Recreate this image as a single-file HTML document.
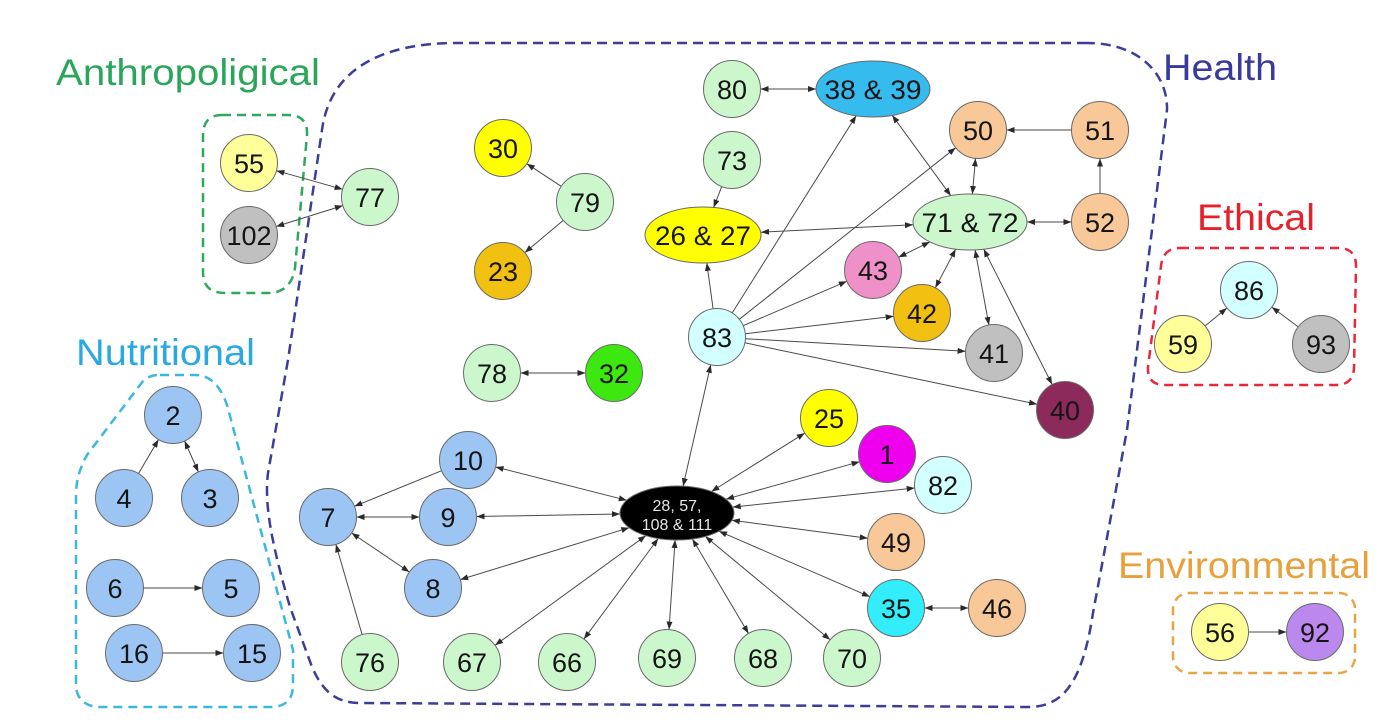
<!DOCTYPE html>
<html>
<head>
<meta charset="utf-8">
<style>
html,body{margin:0;padding:0;background:#ffffff;}
svg{display:block;}
text{font-family:"Liberation Sans",Arial,sans-serif;}
.n{stroke:#6a6a6a;stroke-width:1;}
.t{font-size:27px;fill:#151515;text-anchor:middle;}
.e{stroke:#4a4a4a;stroke-width:1;fill:none;}
.b{marker-start:url(#ah);marker-end:url(#ah);}
.s{marker-end:url(#ah);}
.lab{font-size:37px;}
</style>
</head>
<body>
<svg width="1389" height="728" viewBox="0 0 1389 728" xmlns="http://www.w3.org/2000/svg">
<defs>
<marker id="ah" viewBox="0 0 8 6" refX="8" refY="3" markerWidth="8" markerHeight="6" markerUnits="userSpaceOnUse" orient="auto-start-reverse">
<path d="M0,0 L8,3 L0,6 z" fill="#2a2a2a"/>
</marker>
</defs>
<rect width="1389" height="728" fill="#ffffff"/>

<!-- Group outlines -->
<path d="M1087,43 L457,43 C380,43 330,70 322,130 L288,360 L268,473 C264,505 272,545 290,607 L312,667 C322,690 335,703 360,703 L1030,707 C1062,706 1082,685 1093,613 L1127,430 L1167,110 C1168,75 1140,43 1087,43 Z" fill="none" stroke="#3d3d99" stroke-width="2.5" stroke-dasharray="10 6"/>
<path d="M222,115 L288,115 Q308,115 307,135 L295,268 Q291,293 268,293 L225,293 Q203,293 203,272 L203,136 Q203,115 222,115 Z" fill="none" stroke="#2ea860" stroke-width="2.5" stroke-dasharray="9 6"/>
<path d="M160,375 L195,375 C210,375 220,385 227,405 L293,650 L293,685 C293,700 285,707 270,707 L100,707 C85,707 76,698 76,685 L76,495 C76,480 80,468 87,455 L140,385 C145,378 150,375 160,375 Z" fill="none" stroke="#3ab8e0" stroke-width="2.5" stroke-dasharray="9 6"/>
<path d="M1180,248 L1338,248 Q1356,248 1356,266 L1354,368 Q1353,385 1336,385 L1165,385 Q1147,385 1148,367 L1161,266 Q1163,248 1180,248 Z" fill="none" stroke="#e8283a" stroke-width="2.5" stroke-dasharray="9 6"/>
<rect x="1173" y="593" width="182" height="80" rx="16" ry="16" fill="none" stroke="#e8a545" stroke-width="2.5" stroke-dasharray="9 6"/>

<!-- Group labels -->
<text class="lab" x="56" y="85" fill="#2aa65a" textLength="264" lengthAdjust="spacingAndGlyphs">Anthropoligical</text>
<text class="lab" x="76" y="365" fill="#2aa8e0" textLength="179" lengthAdjust="spacingAndGlyphs">Nutritional</text>
<text class="lab" x="1163" y="80" fill="#3a3a9c" textLength="114" lengthAdjust="spacingAndGlyphs">Health</text>
<text class="lab" x="1197" y="230" fill="#e8202a" textLength="118" lengthAdjust="spacingAndGlyphs">Ethical</text>
<text class="lab" x="1118" y="578" fill="#e8a03c" textLength="252" lengthAdjust="spacingAndGlyphs">Environmental</text>

<!-- Edges -->
<line class="e b" x1="276.4" y1="170.7" x2="342.6" y2="189.3"/>
<line class="e b" x1="276.2" y1="226.5" x2="342.8" y2="205.6"/>
<line class="e s" x1="138.5" y1="473.5" x2="158.5" y2="439.5"/>
<line class="e b" x1="184.6" y1="441" x2="198.4" y2="472"/>
<line class="e s" x1="143.5" y1="588" x2="202.5" y2="588"/>
<line class="e s" x1="162.5" y1="653" x2="223.5" y2="653"/>
<line class="e s" x1="441.6" y1="470.7" x2="354.4" y2="506.3"/>
<line class="e b" x1="356.5" y1="517" x2="419.5" y2="517"/>
<line class="e b" x1="351.6" y1="533" x2="409.4" y2="572"/>
<line class="e s" x1="362.1" y1="634.6" x2="335.9" y2="544.4"/>

<line class="e b" x1="626.8" y1="500.3" x2="495.6" y2="467"/>
<line class="e b" x1="620" y1="514" x2="476.5" y2="516.5"/>
<line class="e b" x1="629.2" y1="527.7" x2="460.2" y2="579.6"/>
<line class="e b" x1="645.9" y1="535.6" x2="495.1" y2="645.2"/>
<line class="e b" x1="658.2" y1="538.5" x2="583.9" y2="639.1"/>
<line class="e b" x1="675.1" y1="540" x2="669" y2="629.6"/>
<line class="e b" x1="692.4" y1="539" x2="748.5" y2="633.5"/>
<line class="e b" x1="705.3" y1="536.4" x2="830.1" y2="639.8"/>
<line class="e b" x1="719" y1="531.2" x2="869.9" y2="596.7"/>
<line class="e b" x1="731.9" y1="520.3" x2="867.8" y2="538.3"/>
<line class="e b" x1="732.7" y1="507.1" x2="914.7" y2="488"/>
<line class="e b" x1="726" y1="499.2" x2="859.6" y2="461.7"/>
<line class="e b" x1="711.4" y1="491.5" x2="804.8" y2="433.1"/>
<line class="e b" x1="683.1" y1="486.2" x2="710.7" y2="364.8"/>

<line class="e b" x1="924.5" y1="608" x2="968.5" y2="608"/>
<line class="e s" x1="561.2" y1="186.3" x2="526.8" y2="163.7"/>
<line class="e s" x1="563.2" y1="220.4" x2="524.8" y2="252.6"/>
<line class="e b" x1="520.5" y1="373" x2="585.5" y2="373"/>
<line class="e b" x1="760.5" y1="89" x2="816" y2="89"/>
<line class="e s" x1="721.7" y1="186.6" x2="713.6" y2="207.5"/>
<line class="e s" x1="713.1" y1="308.8" x2="706.8" y2="262.9"/>
<line class="e s" x1="732.2" y1="312.9" x2="856.2" y2="115.7"/>
<line class="e s" x1="739.3" y1="319.3" x2="955.7" y2="147.7"/>
<line class="e s" x1="743.2" y1="325.7" x2="846.8" y2="281.3"/>
<line class="e s" x1="745.3" y1="333.7" x2="893.7" y2="316.3"/>
<line class="e s" x1="745.4" y1="338.7" x2="965.6" y2="351.3"/>
<line class="e s" x1="744.9" y1="342.8" x2="1037.1" y2="404.2"/>
<line class="e b" x1="892.2" y1="115.3" x2="950.8" y2="195.7"/>
<line class="e b" x1="761" y1="232.2" x2="913" y2="224.8"/>
<line class="e b" x1="975.5" y1="158.4" x2="972.4" y2="194"/>
<line class="e s" x1="1071.5" y1="130" x2="1006.5" y2="130"/>
<line class="e s" x1="1100" y1="193.5" x2="1100" y2="158.5"/>
<line class="e b" x1="1027" y1="222" x2="1071.5" y2="222"/>
<line class="e b" x1="929.9" y1="241.9" x2="898.5" y2="257.3"/>
<line class="e b" x1="955.7" y1="249.1" x2="935.3" y2="287.8"/>
<line class="e b" x1="975.1" y1="249.9" x2="988.9" y2="325"/>
<line class="e b" x1="983.7" y1="249.1" x2="1052.1" y2="384.5"/>
<line class="e s" x1="1205.1" y1="326" x2="1226.9" y2="308"/>
<line class="e s" x1="1298.2" y1="326.9" x2="1271.8" y2="307.1"/>
<line class="e s" x1="1248.5" y1="632" x2="1286.5" y2="632"/>

<!-- Nodes -->
<g>
<circle class="n" cx="249" cy="163" r="28.5" fill="#ffff99"/><text class="t" x="249" y="173">55</text>
<circle class="n" cx="249" cy="235" r="28.5" fill="#c0c0c0"/><text class="t" x="249" y="245">102</text>
<circle class="n" cx="370" cy="197" r="28.5" fill="#ccf7cc"/><text class="t" x="370" y="207">77</text>

<circle class="n" cx="173" cy="415" r="28.5" fill="#9cc5f4"/><text class="t" x="173" y="425">2</text>
<circle class="n" cx="124" cy="498" r="28.5" fill="#9cc5f4"/><text class="t" x="124" y="508">4</text>
<circle class="n" cx="210" cy="498" r="28.5" fill="#9cc5f4"/><text class="t" x="210" y="508">3</text>
<circle class="n" cx="115" cy="588" r="28.5" fill="#9cc5f4"/><text class="t" x="115" y="598">6</text>
<circle class="n" cx="231" cy="588" r="28.5" fill="#9cc5f4"/><text class="t" x="231" y="598">5</text>
<circle class="n" cx="134" cy="653" r="28.5" fill="#9cc5f4"/><text class="t" x="134" y="663">16</text>
<circle class="n" cx="252" cy="653" r="28.5" fill="#9cc5f4"/><text class="t" x="252" y="663">15</text>

<circle class="n" cx="328" cy="517" r="28.5" fill="#9cc5f4"/><text class="t" x="328" y="527">7</text>
<circle class="n" cx="468" cy="460" r="28.5" fill="#9cc5f4"/><text class="t" x="468" y="470">10</text>
<circle class="n" cx="448" cy="517" r="28.5" fill="#9cc5f4"/><text class="t" x="448" y="527">9</text>
<circle class="n" cx="433" cy="588" r="28.5" fill="#9cc5f4"/><text class="t" x="433" y="598">8</text>
<circle class="n" cx="370" cy="662" r="28.5" fill="#ccf7cc"/><text class="t" x="370" y="672">76</text>
<circle class="n" cx="472" cy="662" r="28.5" fill="#ccf7cc"/><text class="t" x="472" y="672">67</text>
<circle class="n" cx="567" cy="662" r="28.5" fill="#ccf7cc"/><text class="t" x="567" y="672">66</text>
<circle class="n" cx="667" cy="658" r="28.5" fill="#ccf7cc"/><text class="t" x="667" y="668">69</text>
<circle class="n" cx="763" cy="658" r="28.5" fill="#ccf7cc"/><text class="t" x="763" y="668">68</text>
<circle class="n" cx="852" cy="658" r="28.5" fill="#ccf7cc"/><text class="t" x="852" y="668">70</text>

<ellipse class="n" cx="677" cy="513" rx="57" ry="27" fill="#000000"/>
<text x="677" y="511" text-anchor="middle" font-size="16" fill="#e6e6e6">28, 57,</text>
<text x="677" y="530" text-anchor="middle" font-size="16" fill="#e6e6e6">108 &amp; 111</text>

<circle class="n" cx="829" cy="418" r="28.5" fill="#ffff00"/><text class="t" x="829" y="428">25</text>
<circle class="n" cx="887" cy="454" r="28.5" fill="#ee00ee"/><text class="t" x="887" y="464">1</text>
<circle class="n" cx="943" cy="485" r="28.5" fill="#d2ffff"/><text class="t" x="943" y="495">82</text>
<circle class="n" cx="896" cy="542" r="28.5" fill="#f8c898"/><text class="t" x="896" y="552">49</text>
<circle class="n" cx="896" cy="608" r="28.5" fill="#33eefa"/><text class="t" x="896" y="618">35</text>
<circle class="n" cx="997" cy="608" r="28.5" fill="#f8c898"/><text class="t" x="997" y="618">46</text>

<circle class="n" cx="503" cy="148" r="28.5" fill="#ffff00"/><text class="t" x="503" y="158">30</text>
<circle class="n" cx="585" cy="202" r="28.5" fill="#ccf7cc"/><text class="t" x="585" y="212">79</text>
<circle class="n" cx="503" cy="271" r="28.5" fill="#f2c010"/><text class="t" x="503" y="281">23</text>
<circle class="n" cx="492" cy="373" r="28.5" fill="#ccf7cc"/><text class="t" x="492" y="383">78</text>
<circle class="n" cx="614" cy="373" r="28.5" fill="#3de810"/><text class="t" x="614" y="383">32</text>

<circle class="n" cx="732" cy="89" r="28.5" fill="#ccf7cc"/><text class="t" x="732" y="99">80</text>
<ellipse class="n" cx="873" cy="89" rx="57" ry="28" fill="#35bbee"/><text class="t" x="873" y="99" textLength="97" lengthAdjust="spacingAndGlyphs">38 &amp; 39</text>
<circle class="n" cx="732" cy="160" r="28.5" fill="#ccf7cc"/><text class="t" x="732" y="170">73</text>
<ellipse class="n" cx="703" cy="235" rx="58" ry="28" fill="#ffff00"/><text class="t" x="703" y="245" textLength="96" lengthAdjust="spacingAndGlyphs">26 &amp; 27</text>
<circle class="n" cx="717" cy="337" r="28.5" fill="#d2ffff"/><text class="t" x="717" y="347">83</text>

<circle class="n" cx="978" cy="130" r="28.5" fill="#f8c898"/><text class="t" x="978" y="140">50</text>
<circle class="n" cx="1100" cy="130" r="28.5" fill="#f8c898"/><text class="t" x="1100" y="140">51</text>
<ellipse class="n" cx="970" cy="222" rx="57" ry="28" fill="#ccf7cc"/><text class="t" x="970" y="232" textLength="97" lengthAdjust="spacingAndGlyphs">71 &amp; 72</text>
<circle class="n" cx="1100" cy="222" r="28.5" fill="#f8c898"/><text class="t" x="1100" y="232">52</text>
<circle class="n" cx="873" cy="270" r="28.5" fill="#f090c8"/><text class="t" x="873" y="280">43</text>
<circle class="n" cx="922" cy="313" r="28.5" fill="#f2c010"/><text class="t" x="922" y="323">42</text>
<circle class="n" cx="994" cy="353" r="28.5" fill="#c0c0c0"/><text class="t" x="994" y="363">41</text>
<circle class="n" cx="1065" cy="410" r="28.5" fill="#8c2a5c"/><text class="t" x="1065" y="420">40</text>

<circle class="n" cx="1249" cy="290" r="28.5" fill="#d2ffff"/><text class="t" x="1249" y="300">86</text>
<circle class="n" cx="1183" cy="344" r="28.5" fill="#ffff99"/><text class="t" x="1183" y="354">59</text>
<circle class="n" cx="1321" cy="344" r="28.5" fill="#c0c0c0"/><text class="t" x="1321" y="354">93</text>

<circle class="n" cx="1220" cy="632" r="28.5" fill="#ffff99"/><text class="t" x="1220" y="642">56</text>
<circle class="n" cx="1315" cy="632" r="28.5" fill="#bb88ee"/><text class="t" x="1315" y="642">92</text>
</g>
</svg>
</body>
</html>
